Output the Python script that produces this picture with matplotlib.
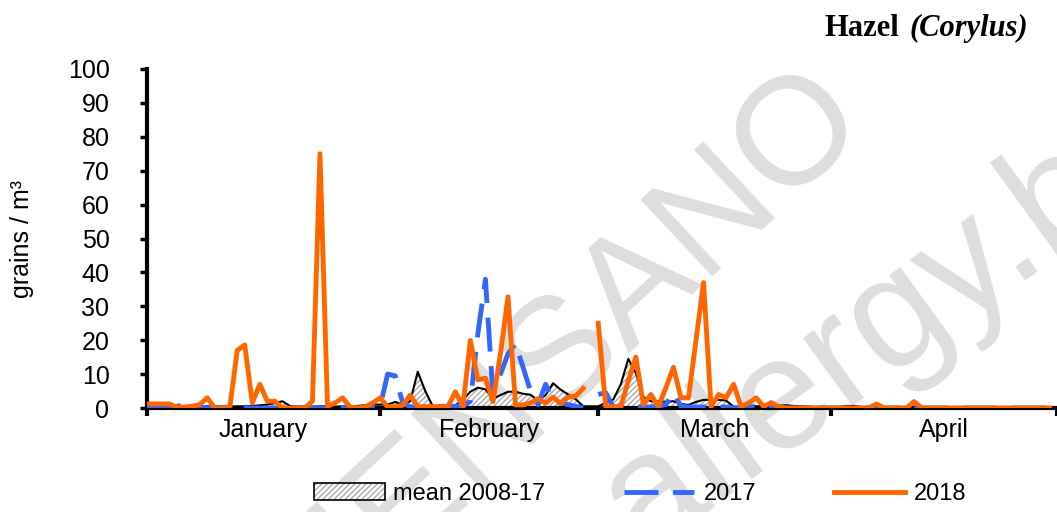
import numpy as np
import matplotlib.pyplot as plt
from matplotlib.patches import Patch
from matplotlib.lines import Line2D

nan = np.nan

# daily values, Jan 1 .. Apr 30 (leap-year calendar, Feb has 29 slots)
month_names = ['January', 'February', 'March', 'April']
month_len = [31, 29, 31, 30]

y2018_jan = [1.2, 1.2, 1.2, 1.2, 0.2, 0.3, 0.5, 1, 3, 0, 0, 0, 17, 18.6, 1.5, 7,
             2, 2, 0, 0, 0, 0, 2, 75, 0.5, 1.5, 3, 0.3, 0, 0.3, 1.5]
y2018_feb = [3, 0.4, 0.4, 0.8, 3.8, 0.4, 0.4, 0.4, 0.4, 0.4, 4.8, 0.4, 19.9, 8.3,
             8.8, 1.9, 16, 32.8, 0.9, 0.9, 1.5, 2.8, 1.4, 3.2, 1.3, 3.2, 3.5, 5.8, nan]
y2018_mar = [25, 0.4, 0.4, 0.4, 8, 15, 1, 4, 0.4, 6, 12, 3, 3, 20, 37, 0.4, 4, 3,
             7, 0.4, 1.5, 3, 0.4, 1.6, 0.4, 0, 0, 0, 0, 0, 0]
y2018_apr = [0, 0, 0, 0, 0, 0, 1.2, 0, 0, 0, 0, 1.9, 0, 0, 0, 0, 0, 0, 0, 0,
             0, 0, 0, 0, 0, 0, 0, 0, 0, 0]

y2017_jan = [0, 0, 0, 0.3, 0.5, 1, 0.5, 0.3, 0, 0, 0, 0, 0, 0, 0, 0, 0, 0, 0, 0,
             0, 0, 0, 0, 0, 0, 0, 0, 0, 0, 0.3]
y2017_feb = [0.5, 10, 9.5, 1.5, 0.3, 0, 0, 0, 0.5, 0.5, 0.5, 0.5, 2, 22, 38, 4,
             10, 16, 19, 12, 5, 1, 7, 2, 1.5, 1, 0.5, 0, nan]
y2017_mar = [4, 4.5, 0.3, 0.3, 0.3, 0.3, 0.3, 0.3, 0.5, 1, 4.5, 0.5, 0.3, 0.3,
             0.3, 0.3, 0.3, 0.3, 0, 0, 0.3, 0.5, 0.5, 0.3, 0, 0, 0, 0, 0, 0, 0]
y2017_apr = [0, 0, 0, 0, 0, 0, 0.3, 0, 0, 0, 0, 0.5, 0, 0, 0, 0, 0, 0, 0, 0,
             0, 0, 0, 0, 0, 0, 0, 0, 0, 0]

mean_jan = [0.3, 0.3, 0.3, 0.3, 0.3, 0.4, 0.4, 0.4, 0.5, 0.5, 0.4, 0.4, 0.5, 0.5,
            0.6, 0.8, 1, 1.5, 2, 0.6, 0.4, 0.4, 0.4, 0.5, 0.5, 0.4, 0.5, 0.5, 0.6, 0.8, 1]
mean_feb = [1, 1, 1.8, 1, 2, 10.7, 5, 0.5, 0.6, 0.7, 0.8, 2.4, 4.8, 6, 5.5, 2.8,
            3.8, 4.8, 4.8, 4.2, 3.9, 2.2, 3.8, 7.3, 5.4, 4, 2.6, 0.5, 0.5]
mean_mar = [0.5, 1.5, 2.5, 7, 14.5, 10.3, 3.3, 2, 2, 1.8, 2, 1.2, 0.9, 1.8, 2.4,
            2.4, 2.4, 2.2, 0.4, 0.4, 0.5, 0.5, 0.6, 0.6, 0.7, 0.8, 0.6, 0.5, 0.4, 0.3, 0.3]
mean_apr = [0.3, 0.3, 0.6, 0.6, 0.3, 0.3, 0.4, 0.3, 0.3, 0.3, 0.3, 0.4, 0.3, 0.2,
            0.2, 0.1, 0.1, 0.1, 0.1, 0.1, 0.1, 0.1, 0.1, 0.1, 0.1, 0.1, 0.1, 0.1, 0.1, 0.1]

y2018 = np.array(y2018_jan + y2018_feb + y2018_mar + y2018_apr)
y2017 = np.array(y2017_jan + y2017_feb + y2017_mar + y2017_apr)
mean = np.array(mean_jan + mean_feb + mean_mar + mean_apr)
days = np.arange(len(y2018))

month_start = np.concatenate([[0], np.cumsum(month_len)])
month_mid = (month_start[:-1] + month_start[1:]) / 2

c2017 = '#3366FF'
c2018 = '#FF6600'

plt.rcParams['font.family'] = ['Liberation Sans', 'DejaVu Sans']
plt.rcParams['hatch.linewidth'] = 1.0

W, H = 1057, 512
fig = plt.figure(figsize=(W / 100, H / 100), dpi=100)
ax = fig.add_axes([147 / W, 104 / H, 1 - 147 / W, 339 / H])
ax.set_facecolor('none')

# watermark
wm = '#dedede'
fig.text(514 / W, 1 - 402 / H, 'SCIENSANO', rotation=43, fontsize=110,
         color=wm, ha='center', va='center', rotation_mode='anchor', zorder=-5)
fig.text(893 / W, 1 - 321 / H, 'allergy.be', rotation=36, fontsize=115,
         color=wm, ha='center', va='center', rotation_mode='anchor', zorder=-5)

ax.fill_between(days, 0, mean, facecolor='white', edgecolor='#aaaaaa',
                hatch='//////', linewidth=0, zorder=1)
ax.plot(days, mean, color='black', lw=1.5, zorder=2)
ax.plot(days, y2017, color=c2017, lw=3.5, dashes=(7, 3), zorder=3)
ax.plot(days, y2018, color=c2018, lw=3.5, zorder=4)

ax.set_xlim(0, 119)
ax.set_ylim(0, 100)
ax.set_yticks(np.arange(0, 101, 10))
ax.set_xticks(month_start)
ax.set_xticklabels([])
ax.set_xticks(month_mid, minor=True)
ax.set_xticklabels(month_names, minor=True)

for s in ['top', 'right']:
    ax.spines[s].set_visible(False)
for s in ['left', 'bottom']:
    ax.spines[s].set_linewidth(3)
ax.tick_params(axis='x', which='major', direction='out', length=6, width=3)
ax.tick_params(axis='x', which='minor', length=0, pad=7, labelsize=18)
ax.tick_params(axis='y', direction='out', length=5, width=2.5, pad=22, labelsize=18)
ax.set_ylabel('grains / m³', fontsize=18)
ax.yaxis.set_label_coords(-113 / (W - 147), 0.5)

# title: "Hazel" bold + "(Corylus)" bold italic, right aligned
r = fig.canvas.get_renderer()
t2 = fig.text(1028 / W, 1 - 36 / H, '(Corylus)', family='Liberation Serif',
              fontsize=22, weight='bold', style='italic', ha='right', va='baseline')
bb = t2.get_window_extent(r)
fig.text((bb.x0 - 10) / W, 1 - 36 / H, 'Hazel', family='Liberation Serif',
         fontsize=22, weight='bold', ha='right', va='baseline')

h_mean = (Patch(facecolor='white', edgecolor='#aaaaaa', hatch='//////', lw=0),
          Patch(facecolor='none', edgecolor='black', lw=1.2))
h17 = Line2D([], [], color=c2017, lw=3.5, dashes=(7, 3))
h18 = Line2D([], [], color=c2018, lw=3.5)
fig.legend([h_mean, h17, h18], ['mean 2008-17', '2017', '2018'],
           loc='center', bbox_to_anchor=(640 / W, 1 - 494 / H), ncol=3,
           frameon=False, fontsize=17, handlelength=3.0, columnspacing=3.3,
           handletextpad=0.38, handleheight=0.7)

fig.savefig('out.png', dpi=100)
